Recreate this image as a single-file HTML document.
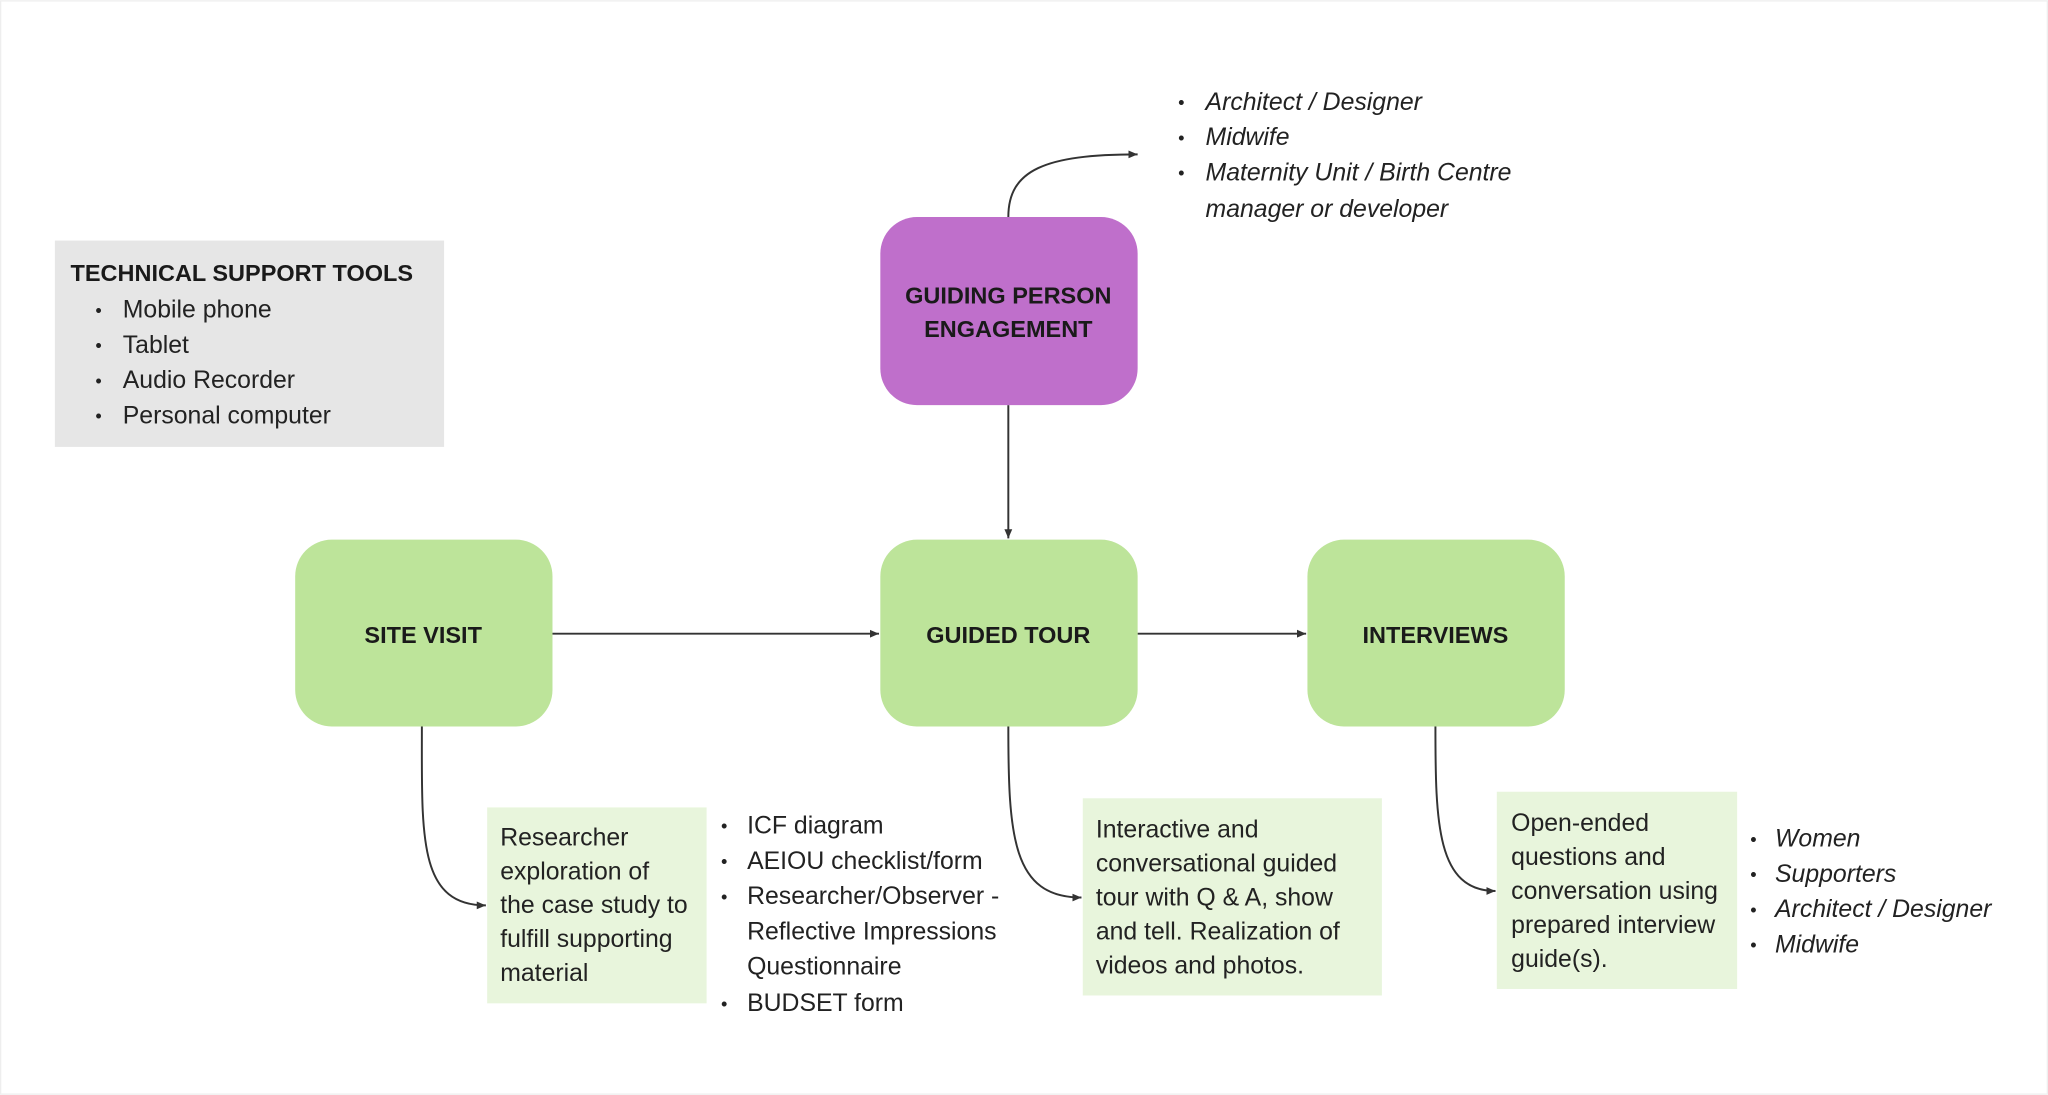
<!DOCTYPE html>
<html><head><meta charset="utf-8"><style>
html,body{margin:0;padding:0;background:#fff}
svg{display:block}
text{font-family:"Liberation Sans",sans-serif;fill:#222;font-size:19px}
.b{font-weight:bold;fill:#1a1a1a;font-size:18px}
.i{font-style:italic}
.d{font-size:14px}
</style></head><body>
<svg width="2048" height="1095" viewBox="0 0 1568 838" xmlns="http://www.w3.org/2000/svg">
<defs><marker id="a" markerWidth="8" markerHeight="8" refX="7" refY="4" orient="auto" markerUnits="userSpaceOnUse"><path d="M0,1 L7,4 L0,7 Z" fill="#333"/></marker></defs>
<rect x="0.5" y="0.5" width="1567" height="837" fill="#fff" stroke="#eee"/>
<rect x="42" y="184" width="298" height="158" fill="#e6e6e6"/>
<text x="54" y="215" class="b">TECHNICAL SUPPORT TOOLS</text>
<g><text x="73" y="242" class="d">•</text><text x="94" y="243">Mobile phone</text>
<text x="73" y="269" class="d">•</text><text x="94" y="270">Tablet</text>
<text x="73" y="296" class="d">•</text><text x="94" y="297">Audio Recorder</text>
<text x="73" y="323" class="d">•</text><text x="94" y="324">Personal computer</text></g>

<g><text x="902" y="83" class="d">•</text><text x="923" y="84" class="i">Architect / Designer</text>
<text x="902" y="110" class="d">•</text><text x="923" y="111" class="i">Midwife</text>
<text x="902" y="137" class="d">•</text><text x="923" y="138" class="i">Maternity Unit / Birth Centre</text>
<text x="923" y="166" class="i">manager or developer</text></g>

<g fill="none" stroke="#333" stroke-width="1.5">
<path d="M772 166 C772 130 800 118 871 118" marker-end="url(#a)"/>
<path d="M772 310 L772 412" marker-end="url(#a)"/>
<path d="M423 485 L673 485" marker-end="url(#a)"/>
<path d="M871 485 L1000 485" marker-end="url(#a)"/>
<path d="M323 556 C323 640 320 693 372 693" marker-end="url(#a)"/>
<path d="M772 556 C772 640 775 687 828 687" marker-end="url(#a)"/>
<path d="M1099 556 C1099 630 1100 682 1145 682" marker-end="url(#a)"/>
</g>

<rect x="674" y="166" width="197" height="144" rx="28" fill="#bf6fcb"/>
<text x="772" y="232" class="b" text-anchor="middle">GUIDING PERSON</text>
<text x="772" y="258" class="b" text-anchor="middle">ENGAGEMENT</text>

<rect x="226" y="413" width="197" height="143" rx="28" fill="#bde49a"/>
<rect x="674" y="413" width="197" height="143" rx="28" fill="#bde49a"/>
<rect x="1001" y="413" width="197" height="143" rx="28" fill="#bde49a"/>
<text x="324" y="492" class="b" text-anchor="middle">SITE VISIT</text>
<text x="772" y="492" class="b" text-anchor="middle">GUIDED TOUR</text>
<text x="1099" y="492" class="b" text-anchor="middle">INTERVIEWS</text>

<rect x="373" y="618" width="168" height="150" fill="#e8f5dc"/>
<text x="383" y="647">Researcher</text><text x="383" y="673">exploration of</text><text x="383" y="699">the case study to</text><text x="383" y="725">fulfill supporting</text><text x="383" y="751">material</text>

<rect x="829" y="611" width="229" height="151" fill="#e8f5dc"/>
<text x="839" y="641">Interactive and</text><text x="839" y="667">conversational guided</text><text x="839" y="693">tour with Q &amp; A, show</text><text x="839" y="719">and tell. Realization of</text><text x="839" y="745">videos and photos.</text>

<rect x="1146" y="606" width="184" height="151" fill="#e8f5dc"/>
<text x="1157" y="636">Open-ended</text><text x="1157" y="662">questions and</text><text x="1157" y="688">conversation using</text><text x="1157" y="714">prepared interview</text><text x="1157" y="740">guide(s).</text>

<text x="552" y="637" class="d">•</text><text x="572" y="638">ICF diagram</text>
<text x="552" y="664" class="d">•</text><text x="572" y="665">AEIOU checklist/form</text>
<text x="552" y="691" class="d">•</text><text x="572" y="692">Researcher/Observer -</text>
<text x="572" y="719">Reflective  Impressions</text>
<text x="572" y="746">Questionnaire</text>
<text x="552" y="773" class="d">•</text><text x="572" y="774">BUDSET form</text>

<text x="1340" y="647" class="d">•</text><text x="1359" y="648" class="i">Women</text>
<text x="1340" y="674" class="d">•</text><text x="1359" y="675" class="i">Supporters</text>
<text x="1340" y="701" class="d">•</text><text x="1359" y="702" class="i">Architect / Designer</text>
<text x="1340" y="728" class="d">•</text><text x="1359" y="729" class="i">Midwife</text>
</svg>
</body></html>
